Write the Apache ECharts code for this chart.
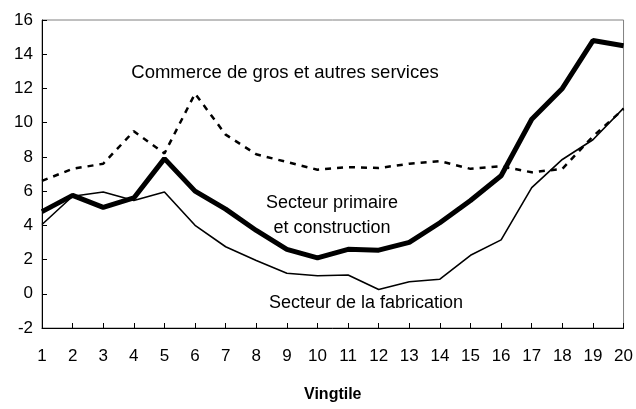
<!DOCTYPE html>
<html>
<head>
<meta charset="utf-8">
<style>
  html, body { margin: 0; padding: 0; background: #fff; }
  #chart { width: 636px; height: 409px; }
</style>
<script src="https://cdn.jsdelivr.net/npm/echarts@6/dist/echarts.min.js"></script>
</head>
<body>
<div id="chart"></div>
<script>
// vingtiles 1..20
var vingtiles = ['1', '2', '3', '4', '5', '6', '7', '8', '9', '10',
  '11', '12', '13', '14', '15', '16', '17', '18', '19', '20']

// Commerce de gros et autres services (pointillé)
var commerce = [6.6, 7.3, 7.6, 9.5, 8.2, 11.7, 9.3, 8.15, 7.7, 7.25,
  7.4, 7.35, 7.6, 7.75, 7.3, 7.45, 7.1, 7.3, 9.2, 10.8]

// Secteur primaire et construction (trait épais)
var primaire = [4.8, 5.75, 5.05, 5.6, 7.9, 6.0, 4.95, 3.7, 2.6, 2.1,
  2.6, 2.55, 3.0, 4.15, 5.45, 6.9, 10.2, 12.0, 14.8, 14.5]

// Secteur de la fabrication (trait fin)
var fabrication = [4.05, 5.7, 5.95, 5.45, 5.95, 4.0, 2.75, 1.95, 1.2, 1.05,
  1.1, 0.25, 0.7, 0.85, 2.25, 3.15, 6.2, 7.85, 9.0, 10.85]

var yMin = -2
var yMax = 16
var yStep = 2

var font = 'Liberation Sans, Arial, sans-serif'

var chart = echarts.init(document.getElementById('chart'))
chart.setOption({
  animation: false,
  grid: {
    left: 42,
    right: 11,
    top: 20,
    bottom: 81,
    show: true,
    borderColor: '#808080',
    borderWidth: 1
  },
  xAxis: {
    type: 'category',
    boundaryGap: false,
    data: vingtiles,
    name: 'Vingtile',
    nameLocation: 'middle',
    nameGap: 59,
    nameTextStyle: {
      color: '#000',
      fontFamily: font,
      fontSize: 16,
      fontWeight: 'bold'
    },
    axisLine: { onZero: false, lineStyle: { color: '#000', width: 1 } },
    axisTick: { inside: true, length: 5, lineStyle: { color: '#000' } },
    axisLabel: {
      color: '#000',
      fontFamily: font,
      fontSize: 17,
      margin: 20
    },
    splitLine: { show: false }
  },
  yAxis: {
    type: 'value',
    min: yMin,
    max: yMax,
    interval: yStep,
    axisLine: { show: true, lineStyle: { color: '#000', width: 1 } },
    axisTick: { show: true, inside: true, length: 5, lineStyle: { color: '#000' } },
    axisLabel: {
      color: '#000',
      fontFamily: font,
      fontSize: 17,
      margin: 9
    },
    splitLine: { show: false }
  },
  series: [
    {
      name: 'Commerce de gros et autres services',
      type: 'line',
      data: commerce,
      showSymbol: false,
      lineStyle: { color: '#000', width: 2.5, type: [6, 6] }
    },
    {
      name: 'Secteur de la fabrication',
      type: 'line',
      data: fabrication,
      showSymbol: false,
      lineStyle: { color: '#000', width: 1.6 }
    },
    {
      name: 'Secteur primaire et construction',
      type: 'line',
      data: primaire,
      showSymbol: false,
      lineStyle: { color: '#000', width: 5 }
    }
  ],
  graphic: [
    {
      type: 'text',
      x: 285,
      y: 73,
      style: {
        text: 'Commerce de gros et autres services',
        fill: '#000',
        font: '18.5px ' + font,
        textAlign: 'center',
        textVerticalAlign: 'middle'
      }
    },
    {
      type: 'text',
      x: 332,
      y: 216,
      style: {
        text: 'Secteur primaire\net construction',
        fill: '#000',
        font: '18px ' + font,
        lineHeight: 25,
        textAlign: 'center',
        textVerticalAlign: 'middle'
      }
    },
    {
      type: 'text',
      x: 366,
      y: 303,
      style: {
        text: 'Secteur de la fabrication',
        fill: '#000',
        font: '18px ' + font,
        textAlign: 'center',
        textVerticalAlign: 'middle'
      }
    }
  ]
})
</script>
</body>
</html>
